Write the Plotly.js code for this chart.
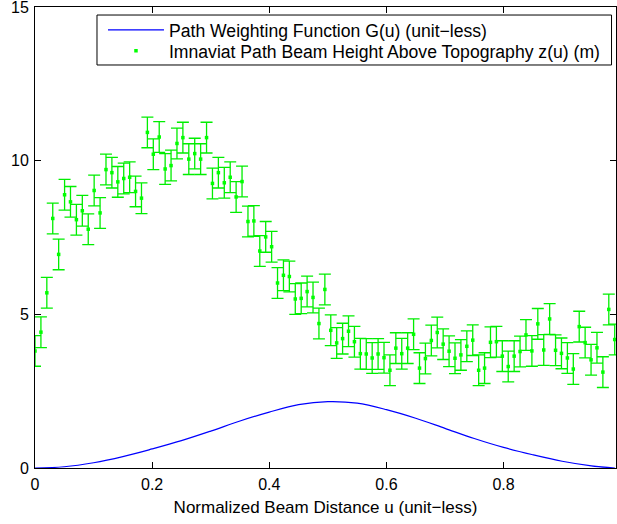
<!DOCTYPE html>
<html>
<head>
<meta charset="utf-8">
<script src="https://cdn.plot.ly/plotly-3.0.1.min.js"></script>
<style>
  html, body { margin: 0; padding: 0; background: #ffffff; }
  #chart { width: 617px; height: 524px; }
</style>
</head>
<body>
<div id="chart"></div>
<script>
// Path weighting function G(u)
const gU = [0, 0.05, 0.10, 0.15, 0.20, 0.25, 0.30, 0.35, 0.40, 0.45, 0.50,
            0.55, 0.60, 0.65, 0.70, 0.75, 0.80, 0.85, 0.90, 0.95, 0.99];
const gV = [0, 0.04, 0.17, 0.37, 0.62, 0.89, 1.20, 1.53, 1.82, 2.06, 2.16,
            2.11, 1.90, 1.62, 1.29, 0.96, 0.67, 0.43, 0.22, 0.07, 0.0];

// Beam height above topography z(u) (m), with error bars
const zU = [0.0000, 0.0101, 0.0202, 0.0303, 0.0404, 0.0505, 0.0606, 0.0707, 0.0808, 0.0909,
            0.1010, 0.1111, 0.1212, 0.1313, 0.1414, 0.1515, 0.1616, 0.1717, 0.1818, 0.1919,
            0.2020, 0.2121, 0.2222, 0.2323, 0.2424, 0.2525, 0.2626, 0.2727, 0.2828, 0.2929,
            0.3030, 0.3131, 0.3232, 0.3333, 0.3434, 0.3535, 0.3636, 0.3737, 0.3838, 0.3939,
            0.4040, 0.4141, 0.4242, 0.4343, 0.4444, 0.4545, 0.4646, 0.4747, 0.4848, 0.4949,
            0.5050, 0.5151, 0.5252, 0.5353, 0.5454, 0.5555, 0.5656, 0.5757, 0.5858, 0.5959,
            0.6060, 0.6161, 0.6262, 0.6363, 0.6464, 0.6565, 0.6666, 0.6767, 0.6868, 0.6969,
            0.7070, 0.7171, 0.7272, 0.7373, 0.7474, 0.7575, 0.7676, 0.7777, 0.7878, 0.7979,
            0.8080, 0.8181, 0.8282, 0.8383, 0.8484, 0.8585, 0.8686, 0.8787, 0.8888, 0.8989,
            0.9090, 0.9191, 0.9292, 0.9393, 0.9494, 0.9595, 0.9696, 0.9797, 0.9898];
const zV = [3.81, 4.42, 5.70, 8.12, 6.95, 8.89, 8.66, 8.08, 8.37, 7.77,
            9.03, 8.30, 9.71, 9.61, 9.31, 9.42, 9.46, 9.00, 8.78, 10.92,
            10.21, 10.77, 9.73, 9.84, 10.56, 10.75, 10.05, 10.23, 10.05, 10.75,
            9.26, 9.61, 9.28, 9.46, 8.82, 9.32, 8.02, 8.04, 7.06, 7.52,
            7.20, 6.02, 6.27, 6.23, 5.50, 5.52, 5.74, 5.55, 4.70, 5.81,
            4.48, 4.07, 4.21, 4.45, 4.11, 3.72, 3.71, 3.58, 3.71, 3.59,
            3.18, 3.90, 3.72, 3.90, 4.35, 3.25, 3.56, 4.15, 4.41, 4.03,
            3.80, 3.57, 3.68, 3.96, 4.16, 3.18, 3.25, 4.09, 4.11, 3.64,
            3.30, 3.64, 3.79, 4.33, 3.81, 4.69, 3.84, 4.85, 3.83, 3.73,
            3.58, 3.22, 4.60, 4.08, 3.52, 3.91, 3.12, 5.16, 4.18];
const zErr = 0.5;

const xTicks = [0, 0.2, 0.4, 0.6, 0.8];
const xTickText = ['0', '0.2', '0.4', '0.6', '0.8'];
const yTicks = [0, 5, 10, 15];
const yTickText = ['0', '5', '10', '15'];

const FONT = 'Liberation Sans, Arial, Helvetica, sans-serif';

const traces = [
  {
    x: gU, y: gV,
    type: 'scatter', mode: 'lines',
    name: 'Path Weighting Function G(u) (unit\u2212less)',
    legend: 'legend',
    line: { color: '#0000ff', width: 1.2, shape: 'spline', smoothing: 1 },
    hoverinfo: 'skip'
  },
  {
    x: zU, y: zV,
    type: 'scatter', mode: 'markers',
    name: 'Imnaviat Path Beam Height Above Topography z(u) (m)',
    legend: 'legend2',
    marker: { color: '#00ff00', size: 3.5, symbol: 'square' },
    error_y: { type: 'constant', value: zErr, color: '#00ee00', thickness: 1.3, width: 6 },
    hoverinfo: 'skip'
  }
];

const axisCommon = {
  showline: true, linecolor: '#000000', linewidth: 1, mirror: 'ticks',
  ticks: 'inside', ticklen: 6, tickwidth: 1, tickcolor: '#000000',
  showgrid: false, zeroline: false,
  tickfont: { family: FONT, size: 16, color: '#000000' },
  ticklabeloverflow: 'allow',
  fixedrange: true
};

const legendCommon = {
  xanchor: 'left', yanchor: 'middle',
  bgcolor: 'rgba(0,0,0,0)', borderwidth: 0,
  font: { family: FONT, size: 17.6, color: '#000000' },
  itemwidth: 56
};

const layout = {
  width: 617, height: 524,
  margin: { l: 35, r: 1, t: 7, b: 56, pad: 0 },
  paper_bgcolor: '#ffffff', plot_bgcolor: '#ffffff',
  showlegend: true,
  xaxis: Object.assign({}, axisCommon, {
    range: [0, 0.992],
    tickmode: 'array', tickvals: xTicks, ticktext: xTickText,
    ticklabelstandoff: 2,
    title: { text: 'Normalized Beam Distance u (unit\u2212less)', font: { family: FONT, size: 17, color: '#000000' }, standoff: 8 }
  }),
  yaxis: Object.assign({}, axisCommon, {
    range: [0, 15],
    tickmode: 'array', tickvals: yTicks, ticktext: yTickText,
    ticklabelstandoff: 2
  }),
  legend: Object.assign({}, legendCommon, { x: 0.1170, y: 0.9501 }),
  legend2: Object.assign({}, legendCommon, { x: 0.1170, y: 0.9052 }),
  shapes: [
    {
      type: 'rect', xref: 'paper', yref: 'paper', layer: 'above',
      x0: 0.1067, x1: 0.9923, y0: 0.8742, y1: 0.9826,
      line: { color: '#000000', width: 1 }, fillcolor: '#ffffff'
    }
  ]
};

Plotly.newPlot('chart', traces, layout, { staticPlot: true, displayModeBar: false });
</script>
</body>
</html>
